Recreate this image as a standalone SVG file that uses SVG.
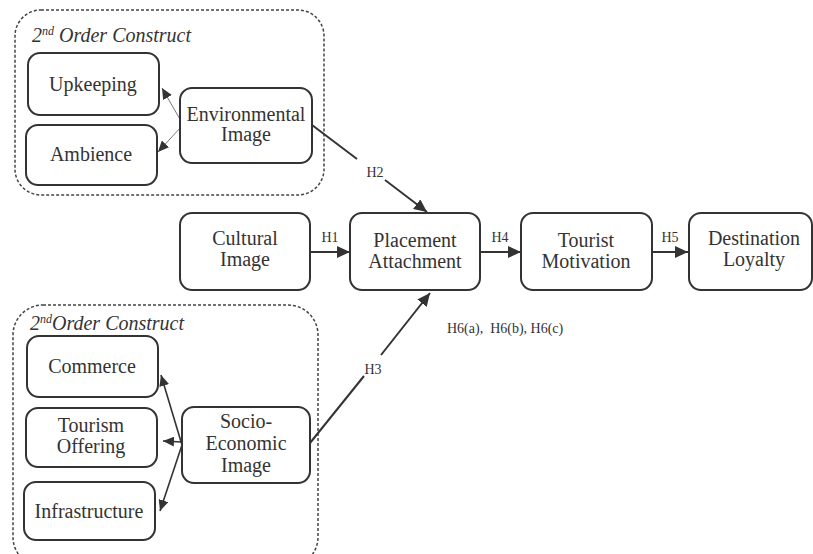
<svg xmlns="http://www.w3.org/2000/svg" width="813" height="554" viewBox="0 0 813 554">
<style>
.box{fill:#fff;stroke:#333;stroke-width:2}
.grp{fill:none;stroke:#444;stroke-width:1.5;stroke-dasharray:3 2}
.t{font-family:"Liberation Serif","Times New Roman",serif;font-size:20px;fill:#333;text-anchor:middle}
.h{font-family:"Liberation Serif","Times New Roman",serif;font-size:14px;fill:#333;text-anchor:middle}
.hs{font-family:"Liberation Serif","Times New Roman",serif;font-size:14px;fill:#333;text-anchor:start}
.g{font-family:"Liberation Serif","Times New Roman",serif;font-size:20px;font-style:italic;fill:#333}
.c{fill:none;stroke:#333;stroke-width:2}
.thin{fill:none;stroke:#777;stroke-width:1}
.mid{fill:none;stroke:#333;stroke-width:1.6}
</style>
<defs>
<marker id="ah" markerUnits="userSpaceOnUse" markerWidth="14" markerHeight="12" refX="13" refY="6" orient="auto"><path d="M0,0 L13,6 L0,12 Z" fill="#333"/></marker>
<marker id="as" markerUnits="userSpaceOnUse" markerWidth="12" markerHeight="10" refX="11" refY="5" orient="auto"><path d="M0,0 L11,5 L0,10 Z" fill="#333"/></marker>
</defs>
<rect x="0" y="0" width="813" height="554" fill="#fff"/>
<g id="group-env">
<rect class="grp" x="15" y="10" width="309" height="185" rx="26"/>
<text class="g" x="32" y="42">2<tspan font-size="12" dy="-7">nd</tspan><tspan dy="7"> Order Construct</tspan></text>
</g>
<g id="group-socio">
<rect class="grp" x="13" y="305" width="305" height="262" rx="30"/>
<text class="g" x="30" y="330">2<tspan font-size="12" dy="-7">nd</tspan><tspan dy="7">Order Construct</tspan></text>
</g>
<g id="connectors">
<line class="thin" x1="181" y1="121" x2="162" y2="88" marker-end="url(#as)"/>
<line class="thin" x1="181" y1="127" x2="158" y2="152" marker-end="url(#as)"/>
<line class="c" x1="312" y1="125" x2="357" y2="159"/>
<line class="c" x1="385" y1="180" x2="427" y2="212" marker-end="url(#ah)"/>
<line class="c" x1="310" y1="252" x2="350" y2="252" marker-end="url(#ah)"/>
<line class="c" x1="480" y1="252" x2="521" y2="252" marker-end="url(#ah)"/>
<line class="c" x1="652" y1="252" x2="688" y2="252" marker-end="url(#ah)"/>
<line class="c" x1="310" y1="443" x2="364" y2="376"/>
<line class="c" x1="381" y1="355" x2="430" y2="293" marker-end="url(#ah)"/>
<line class="mid" x1="182" y1="445" x2="161" y2="375" marker-end="url(#as)"/>
<line class="mid" x1="182" y1="442" x2="163" y2="441" marker-end="url(#as)"/>
<line class="mid" x1="182" y1="445" x2="160" y2="511" marker-end="url(#as)"/>
<text class="h" x="375" y="177">H2</text>
<text class="h" x="330" y="242">H1</text>
<text class="h" x="500" y="242">H4</text>
<text class="h" x="670" y="242">H5</text>
<text class="h" x="373" y="374">H3</text>
<text class="hs" x="447" y="333" xml:space="preserve">H6(a),  H6(b), H6(c)</text>
</g>
<g id="upkeeping"><rect class="box" x="28" y="53" width="131" height="62" rx="12"/><text class="t" x="93" y="91">Upkeeping</text></g>
<g id="ambience"><rect class="box" x="26" y="125" width="131" height="60" rx="12"/><text class="t" x="91" y="161">Ambience</text></g>
<g id="environmental"><rect class="box" x="180" y="88" width="132" height="75" rx="12"/><text class="t" x="246" y="121">Environmental</text><text class="t" x="246" y="141">Image</text></g>
<g id="cultural"><rect class="box" x="180" y="213" width="130" height="77" rx="12"/><text class="t" x="245" y="245">Cultural</text><text class="t" x="245" y="266">Image</text></g>
<g id="placement"><rect class="box" x="350" y="213" width="130" height="77" rx="12"/><text class="t" x="415" y="247">Placement</text><text class="t" x="415" y="268">Attachment</text></g>
<g id="tourist"><rect class="box" x="521" y="213" width="131" height="77" rx="12"/><text class="t" x="586" y="247">Tourist</text><text class="t" x="586" y="268">Motivation</text></g>
<g id="destination"><rect class="box" x="689" y="213" width="123" height="77" rx="12"/><text class="t" x="754" y="245">Destination</text><text class="t" x="754" y="266">Loyalty</text></g>
<g id="commerce"><rect class="box" x="27" y="336" width="131" height="61" rx="12"/><text class="t" x="92" y="373">Commerce</text></g>
<g id="tourism"><rect class="box" x="26" y="408" width="131" height="59" rx="12"/><text class="t" x="91" y="432">Tourism</text><text class="t" x="91" y="453">Offering</text></g>
<g id="infrastructure"><rect class="box" x="24" y="482" width="131" height="58" rx="12"/><text class="t" x="89" y="518">Infrastructure</text></g>
<g id="socio"><rect class="box" x="182" y="407" width="128" height="76" rx="12"/><text class="t" x="246" y="428">Socio-</text><text class="t" x="246" y="450">Economic</text><text class="t" x="246" y="472">Image</text></g>
</svg>
